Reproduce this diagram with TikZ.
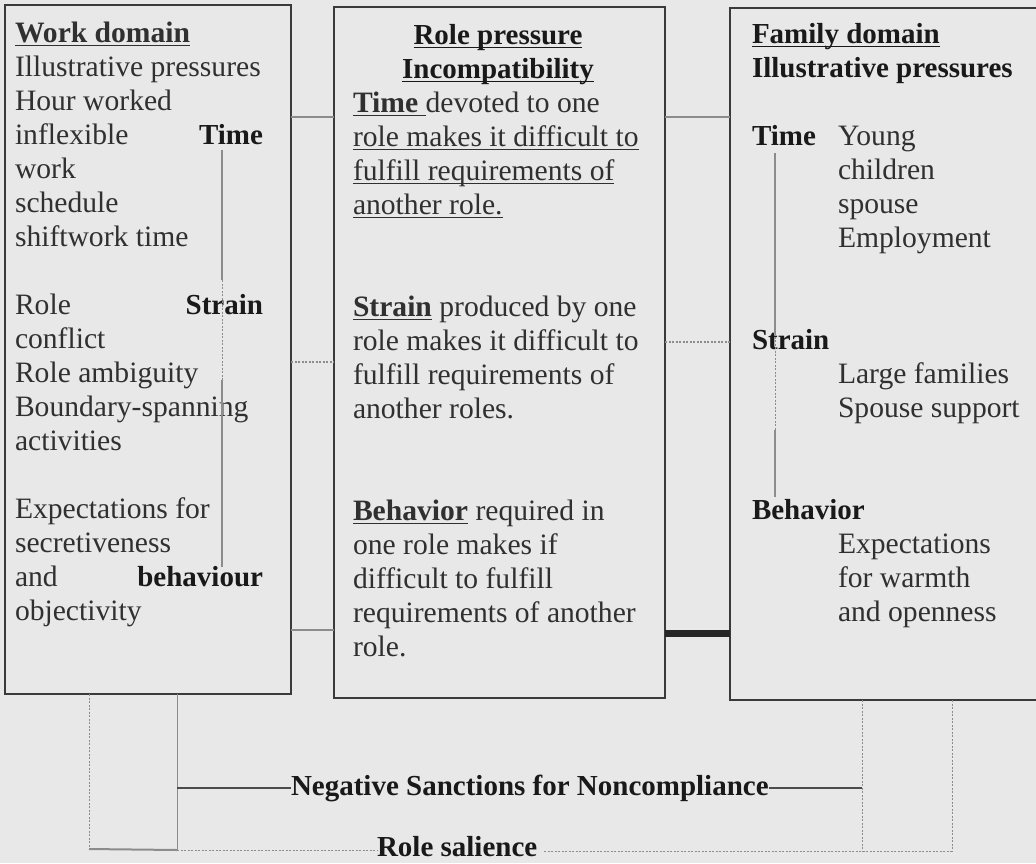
\documentclass[tikz,border=0pt]{standalone}
\usepackage{fontspec}
\setmainfont{Liberation Serif}
\newcommand\ulx[1]{\setbox0=\hbox{#1}\rlap{\rule[-4pt]{\wd0}{1.5pt}}\box0}
\definecolor{bgc}{HTML}{E8E8E8}
\definecolor{boxc}{HTML}{3A3A3A}
\definecolor{txtc}{HTML}{303030}
\definecolor{linec}{HTML}{8C8C8C}
\begin{document}
\begin{tikzpicture}[x=1pt,y=-1pt,
  box/.style={draw=boxc, line width=2pt, fill=bgc, anchor=north west, inner sep=0pt, outer sep=0pt},
  txt/.style={anchor=base west, inner sep=0pt, outer sep=0pt, text=txtc, font=\fontsize{29.6}{34}\selectfont},
  btxt/.style={anchor=base west, inner sep=0pt, outer sep=0pt, text=black!90, font=\fontsize{29}{34}\selectfont\bfseries},
  glink/.style={draw=linec, line width=1.5pt},
  dlink/.style={draw=linec, line width=1.2pt, dash pattern=on 2pt off 1.5pt},
  dklink/.style={draw=black!70, line width=1.3pt}]
\useasboundingbox (0,0) rectangle (1036,863);
\clip (0,0) rectangle (1036,863);
\fill[bgc] (0,0) rectangle (1036,863);

% boxes
\node[box, minimum width=286pt, minimum height=689pt] (work) at (5,5) {};
\node[box, minimum width=331pt, minimum height=691pt] (role) at (334,7) {};
\node[box, minimum width=320pt, minimum height=692pt] (fam) at (730,8) {};

% connectors between boxes
\draw[glink] (work.east |- 0,117) -- (role.west |- 0,117);
\draw[glink, line width=2pt] (role.east |- 0,117) -- (fam.west |- 0,117);
\draw[dlink] (work.east |- 0,362) -- (role.west |- 0,362);
\draw[dlink] (role.east |- 0,342) -- (fam.west |- 0,342);
\draw[glink] (work.east |- 0,630) -- (role.west |- 0,630);
\draw[draw=black!85, line width=7pt] (role.east |- 0,633) -- (fam.west |- 0,633);

% work domain text
\foreach \k/\t in {0/{\ulx{\textbf{Work domain}}},1/Illustrative pressures,2/Hour worked,
  3/inflexible,4/work,5/schedule,6/shiftwork time,8/Role,9/conflict,10/Role ambiguity,
  11/Boundary-spanning,12/activities,14/Expectations for,15/secretiveness,16/and,17/objectivity}
  \node[txt] (w\k) at (15,{42+34*\k}) {\t};
\node[btxt, anchor=base east] (wtime) at (263,{42+34*3}) {Time};
\node[btxt, anchor=base east] (wstrain) at (263,{42+34*8}) {Strain};
\node[btxt, anchor=base east] (wbeh) at (263,{42+34*16}) {behaviour};
\coordinate (lt1) at (222,150);
\coordinate (lt2) at (222,280);
\coordinate (lt3) at (222,380);
\coordinate (lt4) at (222,567);
\draw[glink, line width=1.2pt] (lt1) -- (lt2);
\draw[dlink, line width=1pt] (lt2) -- (lt3);
\draw[glink, line width=1.2pt] (lt3) -- (lt4);

% role pressure text
\node[btxt, anchor=base] (r0) at (498,{44}) {\ulx{Role pressure}};
\node[btxt, anchor=base] (r1) at (498,{44+34}) {\ulx{Incompatibility}};
\foreach \k/\t in {2/{\ulx{\textbf{Time}\ }devoted to one},3/{\ulx{role makes it difficult to}},
  4/{\ulx{fulfill requirements of}},5/{\ulx{another role.}},
  8/{\ulx{\textbf{Strain}}\ produced by one},9/role makes it difficult to,10/fulfill requirements of,
  11/another roles.,14/{\ulx{\textbf{Behavior}}\ required in},15/one role makes if,
  16/difficult to fulfill,17/requirements of another,18/role.}
  \node[txt] (r\k) at (353,{44+34*\k}) {\t};

% family domain text
\node[btxt] (f0) at (752,43) {\ulx{Family domain}};
\node[btxt] (f1) at (752,{43+34}) {Illustrative pressures};
\node[btxt] (ftime) at (752,{43+34*3}) {Time};
\node[btxt] (fstrain) at (752,{43+34*9}) {Strain};
\node[btxt] (fbeh) at (752,{43+34*14}) {Behavior};
\foreach \k/\t in {3/Young,4/children,5/spouse,6/Employment,10/Large families,11/Spouse support,
  15/Expectations,16/for warmth,17/and openness}
  \node[txt] (f\k) at (838,{43+34*\k}) {\t};
\coordinate (rt1) at (775,153);
\coordinate (rt2) at (775,333);
\coordinate (rt3) at (775,430);
\coordinate (rt4) at (775,497);
\draw[glink, line width=1.2pt] (rt1) -- (rt2);
\draw[dlink, line width=1pt] (rt2) -- (rt3);
\draw[glink, line width=1.2pt] (rt3) -- (rt4);

% bottom
\node[btxt] (neg) at (291,795) {Negative Sanctions for Noncompliance};
\node[btxt] (sal) at (377,856) {Role salience};
\coordinate (b1) at (89,849);
\coordinate (b2) at (177,850);
\coordinate (b3) at (862,851);
\coordinate (b4) at (952,851);
\draw[dlink, line width=1pt] (89,0 |- work.south) -- (b1);
\draw[glink, line width=1pt] (177,0 |- work.south) -- (b2);
\draw[glink, line width=2pt] (b1) -- (b2);
\draw[dklink] (177,0 |- neg.west) -- (neg.west);
\draw[dklink] (neg.east) -- (862,0 |- neg.east);
\draw[dlink, line width=1pt] (b2) -- (sal.west |- b2);
\draw[dlink, line width=1pt] ([xshift=7pt]sal.east |- b4) -- (b4);
\draw[dlink, line width=1pt] (862,0 |- fam.south) -- (b3);
\draw[dlink, line width=1pt] (952,0 |- fam.south) -- (b4);
\end{tikzpicture}
\end{document}
